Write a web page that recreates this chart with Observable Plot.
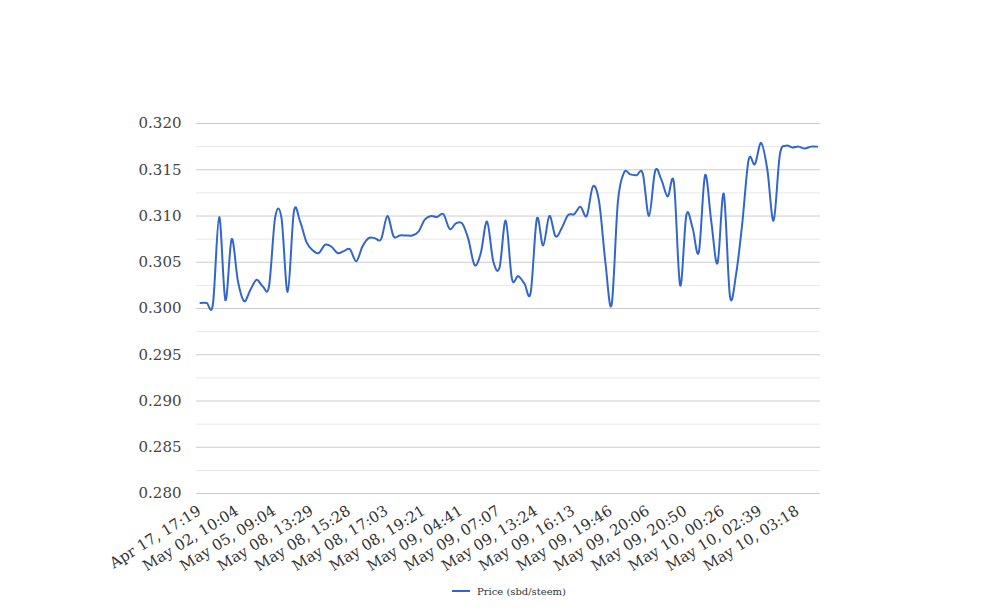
<!DOCTYPE html>
<html>
<head>
<meta charset="utf-8">
<script src="https://cdn.jsdelivr.net/npm/d3@7"></script>
<script src="https://cdn.jsdelivr.net/npm/@observablehq/plot@0.6"></script>
<style>
  html, body { margin: 0; padding: 0; background: #fff; }
  #chart { width: 1008px; }
  #legend { display: flex; justify-content: center; align-items: center; height: 26px; padding-left: 10px;
            font-family: "DejaVu Serif", serif; font-size: 10px; color: #333; }
  #legend .sw { width: 18px; height: 2px; background: #3366cc; margin-right: 7px; }
</style>
</head>
<body>
<div id="chart"></div>
<div id="legend"><span class="sw"></span><span>Price (sbd/steem)</span></div>
<script>
const seriesName = "Price (sbd/steem)";
const xLabels = ["Apr 17, 17:19","May 02, 10:04","May 05, 09:04","May 08, 13:29","May 08, 15:28","May 08, 17:03","May 08, 19:21","May 09, 04:41","May 09, 07:07","May 09, 13:24","May 09, 16:13","May 09, 19:46","May 09, 20:06","May 09, 20:50","May 10, 00:26","May 10, 02:39","May 10, 03:18"];
const labelEvery = 6;
const prices = [
  0.3006,0.3006,0.3005,0.3099,0.3009,0.3075,0.3030,0.3008,0.3020,0.3031,
  0.3024,0.3024,0.3099,0.3098,0.3018,0.3105,0.3094,0.3072,0.3063,0.3060,
  0.3069,0.3067,0.3060,0.3062,0.3064,0.3051,0.3067,0.3076,0.3076,0.3075,
  0.3100,0.3078,0.3079,0.3079,0.3079,0.3083,0.3096,0.3100,0.3099,0.3102,
  0.3086,0.3092,0.3092,0.3075,0.3047,0.3060,0.3094,0.3051,0.3044,0.3095,
  0.3032,0.3035,0.3027,0.3017,0.3097,0.3068,0.3100,0.3078,0.3087,0.3101,
  0.3102,0.3110,0.3100,0.3132,0.3115,0.3050,0.3004,0.3115,0.3147,0.3145,
  0.3144,0.3146,0.3100,0.3149,0.3139,0.3121,0.3136,0.3025,0.3101,0.3087,
  0.3061,0.3144,0.3094,0.3049,0.3124,0.3013,0.3038,0.3094,0.3161,0.3156,
  0.3179,0.3150,0.3095,0.3166,0.3176,0.3174,0.3175,0.3173,0.3175,0.3175
];
const yTicks = [0.280,0.285,0.290,0.295,0.300,0.305,0.310,0.315,0.320];
const yMinor = [0.2825,0.2875,0.2925,0.2975,0.3025,0.3075,0.3125,0.3175];

const data = prices.map((v, i) => ({i, v}));
const xTickPos = xLabels.map((_, k) => k * labelEvery);
const font = "DejaVu Serif, serif";

const chart = Plot.plot({
  width: 1008,
  height: 578,
  marginTop: 123,
  marginBottom: 85,
  marginLeft: 196,
  marginRight: 188,
  style: {fontFamily: font, fontSize: "15px", color: "#444", background: "#fff"},
  x: {type: "linear", domain: [-0.64, 99.53], axis: null},
  y: {domain: [0.280, 0.320], axis: null},
  marks: [
    Plot.ruleY(yMinor, {stroke: "#e8e8e8", strokeWidth: 1}),
    Plot.ruleY(yTicks, {stroke: "#cccccc", strokeWidth: 1}),
    Plot.text(yTicks, {x: -0.64, y: d => d, text: d => d.toFixed(3), textAnchor: "end", dx: -15, fill: "#444", fontSize: 15}),
    Plot.text(xTickPos, {x: d => d, y: 0.280, text: (d, k) => xLabels[k], rotate: -32, textAnchor: "end", lineAnchor: "top", dy: 11, dx: -4, fill: "#333", fontSize: 15}),
    Plot.line(data, {x: "i", y: "v", stroke: "#3366cc", strokeWidth: 2, curve: "cardinal", tension: 0})
  ]
});
document.getElementById("chart").appendChild(chart);
</script>
</body>
</html>
